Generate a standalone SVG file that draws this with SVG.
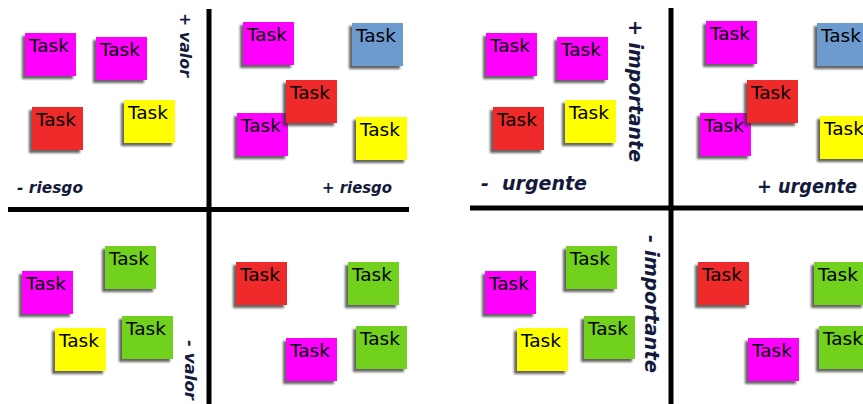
<svg xmlns="http://www.w3.org/2000/svg" width="863" height="404" viewBox="0 0 863 404">
<defs>
<filter id="sh" x="-20%" y="-20%" width="140%" height="140%">
<feDropShadow dx="-3" dy="3" stdDeviation="1.3" flood-color="#333" flood-opacity="0.75"/>
</filter>
</defs>
<style>
.n{filter:url(#sh)}
.m{fill:#ff00ff}.r{fill:#ef2a2a}.y{fill:#ffff00}.g{fill:#72d11b}.b{fill:#6e9bcf}
.t{font-family:"DejaVu Sans",sans-serif;font-size:18.5px;fill:#000}
.ax{stroke:#000;stroke-width:5;fill:none}
.l{font-family:"DejaVu Sans",sans-serif;font-weight:bold;font-style:italic;fill:#141a3c}
.s15{font-size:16px}.s19{font-size:19px}
</style>
<rect width="863" height="404" fill="#fff"/>
<g id="axes">
<line class="ax" x1="209" y1="9" x2="209" y2="404"/>
<line class="ax" x1="8" y1="209.5" x2="409" y2="209.5"/>
<line class="ax" x1="671" y1="8" x2="671" y2="404"/>
<line class="ax" x1="470" y1="208" x2="863" y2="208"/>
</g>
<g id="labels">
<text class="l s15" transform="translate(180,13) rotate(90)" textLength="64" lengthAdjust="spacingAndGlyphs">+ valor</text>
<text class="l s15" x="17" y="193" textLength="66" lengthAdjust="spacingAndGlyphs">- riesgo</text>
<text class="l s15" x="322" y="193" textLength="70" lengthAdjust="spacingAndGlyphs">+ riesgo</text>
<text class="l s15" transform="translate(185,340) rotate(90)" textLength="60" lengthAdjust="spacingAndGlyphs">- valor</text>
<text class="l s19" transform="translate(629,20) rotate(90)" textLength="142" lengthAdjust="spacingAndGlyphs">+ importante</text>
<text class="l s19" y="190"><tspan x="481">- </tspan><tspan x="502" textLength="85" lengthAdjust="spacingAndGlyphs">urgente</tspan></text>
<text class="l s19" x="757" y="193" textLength="100" lengthAdjust="spacingAndGlyphs">+ urgente</text>
<text class="l s19" transform="translate(645,235) rotate(90)" textLength="138" lengthAdjust="spacingAndGlyphs">- importante</text>
</g>
<g id="a-tl1"><rect class="n m" x="25" y="33" width="51" height="43"/><text class="t" x="29" y="52">Task</text></g>
<g id="a-tl2"><rect class="n m" x="96" y="37" width="51" height="43"/><text class="t" x="100" y="56">Task</text></g>
<g id="a-tl3"><rect class="n r" x="32" y="107" width="51" height="43"/><text class="t" x="36" y="126">Task</text></g>
<g id="a-tl4"><rect class="n y" x="124" y="100" width="51" height="43"/><text class="t" x="128" y="119">Task</text></g>
<g id="a-tr1"><rect class="n m" x="243" y="22" width="51" height="43"/><text class="t" x="247" y="41">Task</text></g>
<g id="a-tr2"><rect class="n b" x="352" y="23" width="51" height="43"/><text class="t" x="356" y="42">Task</text></g>
<g id="a-tr4"><rect class="n m" x="237" y="113" width="51" height="43"/><text class="t" x="241" y="132">Task</text></g>
<g id="a-tr3"><rect class="n r" x="286" y="80" width="51" height="43"/><text class="t" x="290" y="99">Task</text></g>
<g id="a-tr5"><rect class="n y" x="356" y="117" width="51" height="43"/><text class="t" x="360" y="136">Task</text></g>
<g id="a-bl1"><rect class="n g" x="105" y="246" width="51" height="43"/><text class="t" x="109" y="265">Task</text></g>
<g id="a-bl2"><rect class="n m" x="22" y="271" width="51" height="43"/><text class="t" x="26" y="290">Task</text></g>
<g id="a-bl3"><rect class="n g" x="122" y="316" width="51" height="43"/><text class="t" x="126" y="335">Task</text></g>
<g id="a-bl4"><rect class="n y" x="55" y="328" width="51" height="43"/><text class="t" x="59" y="347">Task</text></g>
<g id="a-br1"><rect class="n r" x="236" y="262" width="51" height="43"/><text class="t" x="240" y="281">Task</text></g>
<g id="a-br2"><rect class="n g" x="348" y="262" width="51" height="43"/><text class="t" x="352" y="281">Task</text></g>
<g id="a-br3"><rect class="n m" x="286" y="338" width="51" height="43"/><text class="t" x="290" y="357">Task</text></g>
<g id="a-br4"><rect class="n g" x="356" y="326" width="51" height="43"/><text class="t" x="360" y="345">Task</text></g>
<g id="b-tl1"><rect class="n m" x="486" y="33" width="51" height="43"/><text class="t" x="490" y="52">Task</text></g>
<g id="b-tl2"><rect class="n m" x="557" y="37" width="51" height="43"/><text class="t" x="561" y="56">Task</text></g>
<g id="b-tl3"><rect class="n r" x="493" y="107" width="51" height="43"/><text class="t" x="497" y="126">Task</text></g>
<g id="b-tl4"><rect class="n y" x="565" y="100" width="51" height="43"/><text class="t" x="569" y="119">Task</text></g>
<g id="b-tr1"><rect class="n m" x="706" y="21" width="51" height="43"/><text class="t" x="710" y="40">Task</text></g>
<g id="b-tr2"><rect class="n b" x="817" y="23" width="51" height="43"/><text class="t" x="821" y="42">Task</text></g>
<g id="b-tr4"><rect class="n m" x="700" y="113" width="51" height="43"/><text class="t" x="704" y="132">Task</text></g>
<g id="b-tr3"><rect class="n r" x="747" y="80" width="51" height="43"/><text class="t" x="751" y="99">Task</text></g>
<g id="b-tr5"><rect class="n y" x="820" y="116" width="51" height="43"/><text class="t" x="824" y="135">Task</text></g>
<g id="b-bl1"><rect class="n g" x="566" y="246" width="51" height="43"/><text class="t" x="570" y="265">Task</text></g>
<g id="b-bl2"><rect class="n m" x="485" y="271" width="51" height="43"/><text class="t" x="489" y="290">Task</text></g>
<g id="b-bl3"><rect class="n g" x="584" y="316" width="51" height="43"/><text class="t" x="588" y="335">Task</text></g>
<g id="b-bl4"><rect class="n y" x="517" y="328" width="51" height="43"/><text class="t" x="521" y="347">Task</text></g>
<g id="b-br1"><rect class="n r" x="698" y="262" width="51" height="43"/><text class="t" x="702" y="281">Task</text></g>
<g id="b-br2"><rect class="n g" x="814" y="262" width="51" height="43"/><text class="t" x="818" y="281">Task</text></g>
<g id="b-br3"><rect class="n m" x="748" y="338" width="51" height="43"/><text class="t" x="752" y="357">Task</text></g>
<g id="b-br4"><rect class="n g" x="819" y="326" width="51" height="43"/><text class="t" x="823" y="345">Task</text></g>
</svg>
